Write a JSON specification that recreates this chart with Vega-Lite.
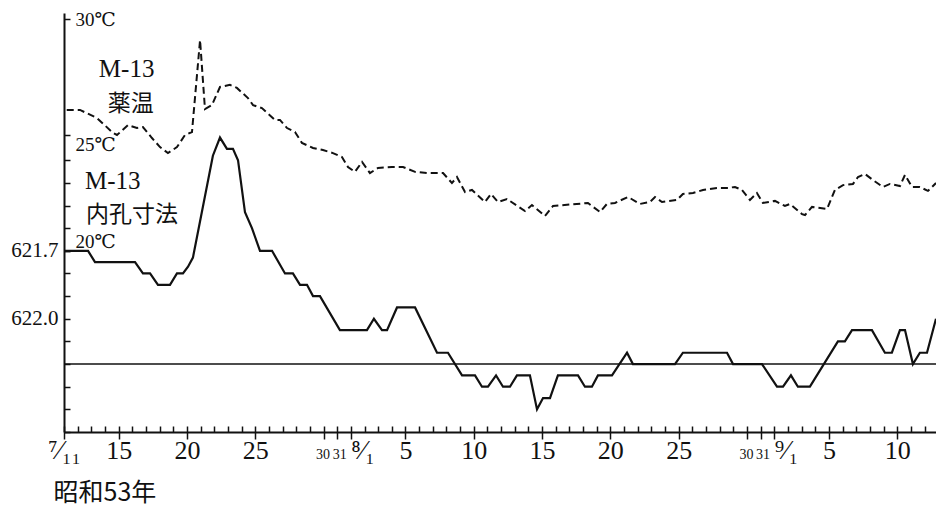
{
  "$schema": "https://vega.github.io/schema/vega-lite/v6.json",
  "width": 872,
  "height": 419,
  "autosize": {"type": "none"},
  "padding": {"left": 64, "top": 13, "right": 0, "bottom": 74},
  "background": "white",
  "config": {
    "view": {"stroke": null},
    "axis": {"grid": false, "domainColor": "#111", "tickColor": "#111", "labelColor": "#111", "titleColor": "#111"}
  },
  "datasets": {
    "temperature": [
      {"day": 0.2, "temp": 26.08}, {"day": 1.17, "temp": 26.08}, {"day": 2.42, "temp": 25.73}, {"day": 3.59, "temp": 25.09},
      {"day": 3.88, "temp": 25.0}, {"day": 4.69, "temp": 25.43}, {"day": 5.34, "temp": 25.3}, {"day": 5.78, "temp": 25.34},
      {"day": 6.44, "temp": 24.87}, {"day": 7.03, "temp": 24.48}, {"day": 7.61, "temp": 24.22}, {"day": 8.27, "temp": 24.48},
      {"day": 8.86, "temp": 25.0}, {"day": 9.37, "temp": 25.13}, {"day": 9.96, "temp": 29.09}, {"day": 10.32, "temp": 26.12},
      {"day": 10.83, "temp": 26.29}, {"day": 11.42, "temp": 27.07}, {"day": 12.15, "temp": 27.16}, {"day": 12.66, "temp": 27.03},
      {"day": 13.47, "temp": 26.59}, {"day": 13.84, "temp": 26.29}, {"day": 14.49, "temp": 26.16}, {"day": 15.45, "temp": 25.65},
      {"day": 15.81, "temp": 25.65}, {"day": 16.33, "temp": 25.3}, {"day": 16.91, "temp": 25.13}, {"day": 17.42, "temp": 24.66},
      {"day": 18.23, "temp": 24.44}, {"day": 18.96, "temp": 24.35}, {"day": 19.69, "temp": 24.22}, {"day": 20.35, "temp": 24.05},
      {"day": 20.79, "temp": 23.62}, {"day": 21.3, "temp": 23.41}, {"day": 21.82, "temp": 23.84}, {"day": 22.4, "temp": 23.36},
      {"day": 22.99, "temp": 23.58}, {"day": 24.01, "temp": 23.62}, {"day": 24.82, "temp": 23.62}, {"day": 25.7, "temp": 23.41},
      {"day": 26.57, "temp": 23.36}, {"day": 27.75, "temp": 23.36}, {"day": 28.4, "temp": 22.93}, {"day": 28.77, "temp": 23.19},
      {"day": 29.36, "temp": 22.54}, {"day": 29.87, "temp": 22.63}, {"day": 30.82, "temp": 22.11}, {"day": 31.26, "temp": 22.46},
      {"day": 31.77, "temp": 22.11}, {"day": 32.43, "temp": 22.24}, {"day": 33.75, "temp": 21.72}, {"day": 34.26, "temp": 21.98},
      {"day": 35.21, "temp": 21.51}, {"day": 35.8, "temp": 21.94}, {"day": 38.36, "temp": 22.07}, {"day": 39.24, "temp": 21.68},
      {"day": 39.75, "temp": 22.03}, {"day": 40.34, "temp": 22.07}, {"day": 41.29, "temp": 22.33}, {"day": 42.17, "temp": 22.03},
      {"day": 42.9, "temp": 22.11}, {"day": 43.27, "temp": 22.33}, {"day": 43.78, "temp": 22.11}, {"day": 44.88, "temp": 22.2},
      {"day": 45.31, "temp": 22.46}, {"day": 46.05, "temp": 22.5}, {"day": 46.78, "temp": 22.63}, {"day": 47.8, "temp": 22.72},
      {"day": 48.61, "temp": 22.72}, {"day": 49.12, "temp": 22.76}, {"day": 49.63, "temp": 22.63}, {"day": 50.22, "temp": 22.2},
      {"day": 50.73, "temp": 22.5}, {"day": 51.17, "temp": 22.07}, {"day": 52.05, "temp": 22.16}, {"day": 52.78, "temp": 21.94},
      {"day": 53.15, "temp": 22.03}, {"day": 54.03, "temp": 21.59}, {"day": 54.25, "temp": 21.55}, {"day": 54.76, "temp": 21.9},
      {"day": 55.86, "temp": 21.81}, {"day": 56.44, "temp": 22.63}, {"day": 57.03, "temp": 22.84}, {"day": 57.76, "temp": 22.89},
      {"day": 58.13, "temp": 23.19}, {"day": 58.64, "temp": 23.32}, {"day": 59.22, "temp": 23.06}, {"day": 59.96, "temp": 22.76},
      {"day": 60.47, "temp": 22.89}, {"day": 61.2, "temp": 22.8}, {"day": 61.57, "temp": 23.28}, {"day": 62.08, "temp": 22.76},
      {"day": 62.66, "temp": 22.76}, {"day": 63.25, "temp": 22.59}, {"day": 63.84, "temp": 22.93}
    ],
    "bore": [
      {"day": 0, "dim": 621.7}, {"day": 1.76, "dim": 621.7}, {"day": 2.27, "dim": 621.75}, {"day": 5.2, "dim": 621.75},
      {"day": 5.78, "dim": 621.8}, {"day": 6.3, "dim": 621.8}, {"day": 6.88, "dim": 621.85}, {"day": 7.76, "dim": 621.85},
      {"day": 8.27, "dim": 621.8}, {"day": 8.71, "dim": 621.8}, {"day": 9.08, "dim": 621.77}, {"day": 9.44, "dim": 621.73},
      {"day": 10.9, "dim": 621.28}, {"day": 11.42, "dim": 621.2}, {"day": 11.93, "dim": 621.25}, {"day": 12.37, "dim": 621.25},
      {"day": 12.74, "dim": 621.3}, {"day": 13.25, "dim": 621.53}, {"day": 13.76, "dim": 621.6}, {"day": 14.35, "dim": 621.7},
      {"day": 15.23, "dim": 621.7}, {"day": 16.18, "dim": 621.8}, {"day": 16.76, "dim": 621.8}, {"day": 17.28, "dim": 621.85},
      {"day": 17.79, "dim": 621.85}, {"day": 18.23, "dim": 621.9}, {"day": 18.74, "dim": 621.9}, {"day": 20.2, "dim": 622.05},
      {"day": 22.18, "dim": 622.05}, {"day": 22.69, "dim": 622.0}, {"day": 23.28, "dim": 622.05}, {"day": 23.65, "dim": 622.05},
      {"day": 24.38, "dim": 621.95}, {"day": 25.7, "dim": 621.95}, {"day": 27.31, "dim": 622.15}, {"day": 28.11, "dim": 622.15},
      {"day": 29.14, "dim": 622.25}, {"day": 30.09, "dim": 622.25}, {"day": 30.6, "dim": 622.3}, {"day": 31.04, "dim": 622.3},
      {"day": 31.63, "dim": 622.25}, {"day": 32.14, "dim": 622.3}, {"day": 32.65, "dim": 622.3}, {"day": 33.16, "dim": 622.25},
      {"day": 34.11, "dim": 622.25}, {"day": 34.63, "dim": 622.4}, {"day": 35.07, "dim": 622.35}, {"day": 35.58, "dim": 622.35},
      {"day": 36.16, "dim": 622.25}, {"day": 37.63, "dim": 622.25}, {"day": 38.14, "dim": 622.3}, {"day": 38.65, "dim": 622.3},
      {"day": 39.09, "dim": 622.25}, {"day": 40.12, "dim": 622.25}, {"day": 41.22, "dim": 622.15}, {"day": 41.65, "dim": 622.2},
      {"day": 44.73, "dim": 622.2}, {"day": 45.31, "dim": 622.15}, {"day": 48.54, "dim": 622.15}, {"day": 48.98, "dim": 622.2},
      {"day": 51.1, "dim": 622.2}, {"day": 52.2, "dim": 622.3}, {"day": 52.64, "dim": 622.3}, {"day": 53.22, "dim": 622.25},
      {"day": 53.73, "dim": 622.3}, {"day": 54.61, "dim": 622.3}, {"day": 56.66, "dim": 622.1}, {"day": 57.17, "dim": 622.1},
      {"day": 57.69, "dim": 622.05}, {"day": 59.15, "dim": 622.05}, {"day": 60.1, "dim": 622.15}, {"day": 60.61, "dim": 622.15},
      {"day": 61.2, "dim": 622.05}, {"day": 61.57, "dim": 622.05}, {"day": 62.15, "dim": 622.2}, {"day": 62.66, "dim": 622.15},
      {"day": 63.18, "dim": 622.15}, {"day": 63.84, "dim": 622.0}
    ],
    "labels": [
      {"text": "M-13", "day": 2.55, "temp": 27.86, "line": "name"},
      {"text": "薬温", "day": 3.2, "temp": 26.35, "line": "desc"},
      {"text": "M-13", "day": 1.54, "temp": 23.03, "line": "name"},
      {"text": "内孔寸法", "day": 1.61, "temp": 21.57, "line": "desc"}
    ]
  },
  "layer": [
    {
      "data": {"name": "temperature"},
      "mark": {"type": "line", "color": "#111", "strokeWidth": 2, "strokeDash": [7, 4]},
      "encoding": {
        "x": {
          "field": "day", "type": "quantitative",
          "scale": {"domain": [0, 63.84], "nice": false, "zero": false},
          "axis": {
            "orient": "bottom",
            "values": [0,1,2,3,4,5,6,7,8,9,10,11,12,13,14,15,16,17,18,19,20,21,22,23,24,25,26,27,28,29,30,31,32,33,34,35,36,37,38,39,40,41,42,43,44,45,46,47,48,49,50,51,52,53,54,55,56,57,58,59,60,61,62,63],
            "tickSize": -6, "tickWidth": 1.5, "labels": false, "domain": true, "domainWidth": 2, "title": null, "grid": false
          }
        },
        "y": {
          "field": "temp", "type": "quantitative",
          "scale": {"domain": [12.198, 30.259], "nice": false, "zero": false},
          "axis": {
            "orient": "left", "values": [20, 25, 30], "tickSize": -6, "tickWidth": 1.5, "domain": false,
            "labelExpr": "datum.value + '℃'", "labelAlign": "left", "labelPadding": -5,
            "labelBaseline": {"condition": [{"test": "datum.value == 30", "value": "middle"}, {"test": "datum.value == 25", "value": "top"}], "value": "bottom"},
            "labelFont": "'Liberation Serif', 'DejaVu Serif', serif", "labelFontSize": 19,
            "labelOverlap": false, "title": null, "grid": false
          }
        }
      }
    },
    {
      "data": {"name": "bore"},
      "mark": {"type": "line", "color": "#111", "strokeWidth": 2.2},
      "encoding": {
        "x": {
          "field": "day", "type": "quantitative",
          "scale": {"domain": [0, 63.84], "nice": false, "zero": false},
          "axis": {
            "orient": "bottom",
            "values": [0, 4, 9, 14, 19, 20, 21, 25, 30, 35, 40, 45, 50, 51, 52, 56, 61],
            "tickSize": 7, "tickWidth": 1.5, "domain": false, "grid": false,
            "labelExpr": "datum.value == 0 ? '⁷⁄₁₁' : datum.value == 21 ? '⁸⁄₁' : datum.value == 52 ? '⁹⁄₁' : datum.value <= 20 ? '' + (datum.value + 11) : datum.value <= 51 ? '' + (datum.value - 20) : '' + (datum.value - 51)",
            "labelFont": "'Liberation Serif', 'DejaVu Serif', serif",
            "labelFontSize": {"condition": [{"test": "datum.value == 19 || datum.value == 20 || datum.value == 50 || datum.value == 51", "value": 14}, {"test": "datum.value == 0 || datum.value == 21 || datum.value == 52", "value": 27}], "value": 26},
            "labelAlign": {"condition": {"test": "datum.value == 21 || datum.value == 52", "value": "left"}, "value": "center"},
            "labelOffset": {"condition": [{"test": "datum.value == 19 || datum.value == 50", "value": -1}, {"test": "datum.value == 20 || datum.value == 51", "value": 2}], "value": 0},
            "labelPadding": 19, "labelOverlap": false, "labelFlush": false, "labelBaseline": "alphabetic",
            "title": "昭和53年", "titleFont": "Noto Sans CJK JP", "titleFontSize": 25, "titleFontWeight": "normal",
            "titleAnchor": "start", "titleAlign": "left", "titleX": -11, "titleY": 60, "titleBaseline": "middle"
          }
        },
        "y": {
          "field": "dim", "type": "quantitative",
          "scale": {"domain": [620.65, 622.5], "reverse": true, "nice": false, "zero": false},
          "axis": {
            "orient": "left",
            "values": [621.3, 621.4, 621.5, 621.6, 621.7, 621.8, 621.9, 622.0, 622.1, 622.2, 622.3, 622.4, 622.5],
            "tickSize": -6, "tickWidth": 1.5, "domainWidth": 2, "grid": false,
            "labelExpr": "abs(datum.value - 621.7) < 0.001 ? '621.7' : abs(datum.value - 622) < 0.001 ? '622.0' : ''",
            "labelPadding": 12, "labelFont": "'Liberation Serif', 'DejaVu Serif', serif", "labelFontSize": 21, "labelOverlap": false, "title": null
          }
        }
      }
    },
    {
      "data": {"values": [{"limit": 622.2}]},
      "mark": {"type": "rule", "color": "#111", "strokeWidth": 1.6},
      "encoding": {
        "y": {
          "field": "limit", "type": "quantitative",
          "scale": {"domain": [620.65, 622.5], "reverse": true, "nice": false, "zero": false},
          "axis": null
        }
      }
    },
    {
      "data": {"name": "labels"},
      "transform": [{"filter": "datum.line == 'name'"}],
      "mark": {"type": "text", "align": "left", "baseline": "middle", "font": "'Liberation Serif', 'DejaVu Serif', serif", "fontSize": 25, "color": "#111"},
      "encoding": {
        "x": {"field": "day", "type": "quantitative", "scale": {"domain": [0, 63.84], "nice": false, "zero": false}, "axis": null},
        "y": {"field": "temp", "type": "quantitative", "scale": {"domain": [12.198, 30.259], "nice": false, "zero": false}, "axis": null},
        "text": {"field": "text"}
      }
    },
    {
      "data": {"name": "labels"},
      "transform": [{"filter": "datum.line == 'desc'"}],
      "mark": {"type": "text", "align": "left", "baseline": "middle", "font": "Noto Sans CJK JP", "fontSize": 23, "color": "#111"},
      "encoding": {
        "x": {"field": "day", "type": "quantitative", "scale": {"domain": [0, 63.84], "nice": false, "zero": false}, "axis": null},
        "y": {"field": "temp", "type": "quantitative", "scale": {"domain": [12.198, 30.259], "nice": false, "zero": false}, "axis": null},
        "text": {"field": "text"}
      }
    }
  ],
  "resolve": {"scale": {"y": "independent"}, "axis": {"x": "independent", "y": "independent"}}
}
